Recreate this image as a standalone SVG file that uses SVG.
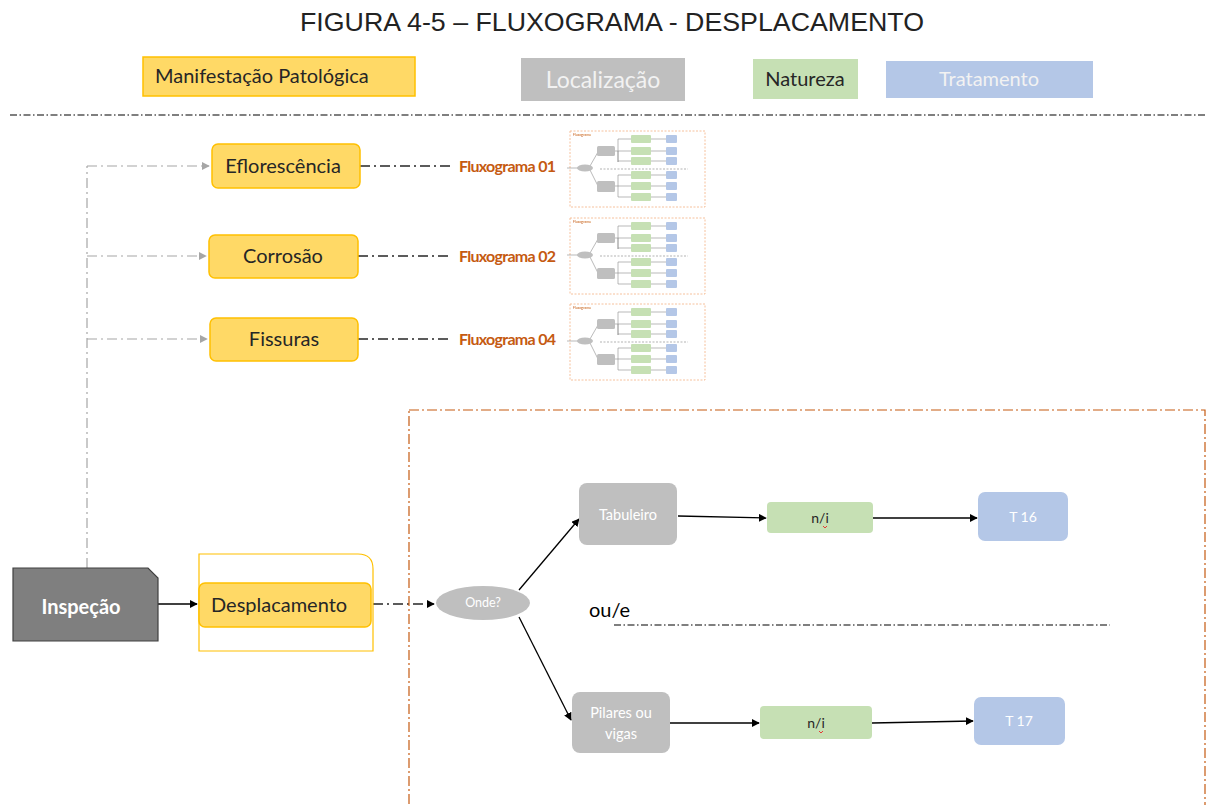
<svg xmlns="http://www.w3.org/2000/svg" xmlns:xlink="http://www.w3.org/1999/xlink" width="1207" height="805" viewBox="0 0 1207 805">
  <style>
    .title { font-family: "Liberation Sans", Arial, sans-serif; font-size: 25px; fill: #222; }
    .lbl { font-family: Lato, "Open Sans", sans-serif; }
    .manif { fill: #ffd966; stroke: #ffc000; stroke-width: 1.5; }
    .loc { fill: #bfbfbf; }
    .nat { fill: #c6e0b4; }
    .trat { fill: #b4c7e7; }
    .dark { fill: #262626; }
    .white { fill: #ffffff; }
    .fx { font-family: Lato, "Open Sans", sans-serif; font-weight: bold; font-size: 16px; fill: #c55a11; letter-spacing: -0.7px; }
    .sep { fill: none; stroke: #000; stroke-width: 1.2; stroke-dasharray: 7 2.5 1.5 2.5; }
    .gray-link { fill: none; stroke: #a6a6a6; stroke-width: 1.2; stroke-dasharray: 10 4 2 4; }
    .dd-link { fill: none; stroke: #262626; stroke-width: 1.3; stroke-dasharray: 10 4 2 4; }
    .solid { fill: none; stroke: #000; stroke-width: 1.3; }
    .frame { fill: none; stroke: #c55a11; stroke-width: 1.2; stroke-dasharray: 10 3 2 3; }
    .t-border { fill: none; stroke: #f4b183; stroke-width: 0.8; stroke-dasharray: 2 1.5; }
    .t-line { fill: none; stroke: #8c8c8c; stroke-width: 0.6; }
  </style>
  <defs>
    <marker id="ah-black" viewBox="0 0 10 10" refX="9" refY="5" markerWidth="8" markerHeight="8" markerUnits="userSpaceOnUse" orient="auto">
      <path d="M0,0 L10,5 L0,10 z" fill="#000"/>
    </marker>
    <marker id="ah-gray" viewBox="0 0 10 10" refX="9" refY="5" markerWidth="8" markerHeight="8" markerUnits="userSpaceOnUse" orient="auto">
      <path d="M0,0 L10,5 L0,10 z" fill="#a6a6a6"/>
    </marker>
    <filter id="soft" x="-5%" y="-5%" width="110%" height="110%">
      <feGaussianBlur stdDeviation="0.55"/>
    </filter>
    <!-- miniature of a sub-flowchart, local size 135 x 76 -->
    <g id="mini">
      <rect class="t-border" x="0" y="0" width="135" height="76"/>
      <text x="3" y="5" font-family="Lato, sans-serif" font-size="3.5" fill="#c55a11">Fluxograma</text>
      <path class="t-line" d="M-3,37 H8 M20,35 L28,21 M20,39 L28,55 M44,20 H48 V31 M48,8 V31 M48,8 H61 M48,20 H61 M48,30 H61 M44,55 H48 M48,44 V66 M48,44 H61 M48,55 H61 M48,66 H61 M80,8 H96 M80,20 H96 M80,30 H96 M80,44 H96 M80,55 H96 M80,66 H96"/>
      <path d="M30,38 H118" fill="none" stroke="#7f7f7f" stroke-width="0.6" stroke-dasharray="2 1.5"/>
      <ellipse cx="15" cy="37" rx="8" ry="3.5" fill="#bfbfbf"/>
      <rect x="27" y="15" width="18" height="10" rx="1.5" fill="#bfbfbf"/>
      <rect x="27" y="50" width="18" height="11" rx="1.5" fill="#bfbfbf"/>
      <g fill="#c6e0b4">
        <rect x="61" y="4" width="20" height="8" rx="1"/>
        <rect x="61" y="16" width="20" height="8" rx="1"/>
        <rect x="61" y="26" width="20" height="8" rx="1"/>
        <rect x="61" y="40" width="20" height="8" rx="1"/>
        <rect x="61" y="51" width="20" height="8" rx="1"/>
        <rect x="61" y="62" width="20" height="8" rx="1"/>
      </g>
      <g fill="#b4c7e7">
        <rect x="96" y="4" width="11" height="8" rx="1"/>
        <rect x="96" y="16" width="11" height="8" rx="1"/>
        <rect x="96" y="26" width="11" height="8" rx="1"/>
        <rect x="96" y="40" width="11" height="8" rx="1"/>
        <rect x="96" y="51" width="11" height="8" rx="1"/>
        <rect x="96" y="62" width="11" height="8" rx="1"/>
      </g>
    </g>
  </defs>

  <rect x="0" y="0" width="1207" height="805" fill="#ffffff"/>

  <!-- title -->
  <text class="title" x="612" y="31" text-anchor="middle" textLength="624" lengthAdjust="spacingAndGlyphs">FIGURA 4-5 – FLUXOGRAMA - DESPLACAMENTO</text>

  <!-- legend -->
  <g id="legend">
    <rect class="manif" x="143" y="57" width="272" height="39"/>
    <text class="lbl dark" x="155" y="83" font-size="20">Manifestação Patológica</text>
    <rect class="loc" x="521" y="58" width="164" height="43"/>
    <text class="lbl" x="603" y="88" font-size="23" fill="#f2f2f2" text-anchor="middle">Localização</text>
    <rect class="nat" x="753" y="59" width="105" height="40"/>
    <text class="lbl dark" x="805" y="86" font-size="20" text-anchor="middle">Natureza</text>
    <rect class="trat" x="886" y="61" width="207" height="37"/>
    <text class="lbl" x="989" y="86" font-size="20" fill="#f2f2f2" text-anchor="middle">Tratamento</text>
  </g>
  <line class="sep" x1="10" y1="115" x2="1207" y2="115"/>

  <!-- connectors -->
  <g id="connectors">
    <path class="gray-link" d="M87,568 V166"/>
    <path class="gray-link" d="M87,166 H209" marker-end="url(#ah-gray)"/>
    <path class="gray-link" d="M87,256 H206" marker-end="url(#ah-gray)"/>
    <path class="gray-link" d="M87,339 H207" marker-end="url(#ah-gray)"/>
    <path class="dd-link" d="M360,166 H450"/>
    <path class="dd-link" d="M358,256 H450"/>
    <path class="dd-link" d="M358,339 H450"/>
    <path class="solid" d="M158,604 H197" marker-end="url(#ah-black)"/>
    <path class="dd-link" d="M373,604 H434" marker-end="url(#ah-black)"/>
    <path class="solid" d="M519,590 L579,519" marker-end="url(#ah-black)"/>
    <path class="solid" d="M678,516 L766,518" marker-end="url(#ah-black)"/>
    <path class="solid" d="M873,518 H977" marker-end="url(#ah-black)"/>
    <path class="solid" d="M519,617 L571,720" marker-end="url(#ah-black)"/>
    <path class="solid" d="M670,723 H759" marker-end="url(#ah-black)"/>
    <path class="solid" d="M872,723 L973,721" marker-end="url(#ah-black)"/>
    <path class="sep" d="M614,625 H1110" stroke="#333"/>
  </g>

  <!-- pathology nodes -->
  <g id="eflorescencia">
    <rect class="manif" x="212" y="144" width="148" height="44" rx="6"/>
    <text class="lbl dark" x="283" y="173" font-size="20" text-anchor="middle">Eflorescência</text>
  </g>
  <g id="corrosao">
    <rect class="manif" x="209" y="235" width="149" height="43" rx="6"/>
    <text class="lbl dark" x="283" y="263" font-size="20" text-anchor="middle">Corrosão</text>
  </g>
  <g id="fissuras">
    <rect class="manif" x="210" y="318" width="148" height="43" rx="6"/>
    <text class="lbl dark" x="284" y="346" font-size="20" text-anchor="middle">Fissuras</text>
  </g>

  <!-- references to other flowcharts -->
  <g id="ref-fluxograma-01">
    <text class="fx" x="459" y="172">Fluxograma 01</text>
    <use xlink:href="#mini" transform="translate(570,131)" filter="url(#soft)"/>
  </g>
  <g id="ref-fluxograma-02">
    <text class="fx" x="459" y="262">Fluxograma 02</text>
    <use xlink:href="#mini" transform="translate(570,218)" filter="url(#soft)"/>
  </g>
  <g id="ref-fluxograma-04">
    <text class="fx" x="459" y="345">Fluxograma 04</text>
    <use xlink:href="#mini" transform="translate(570,304)" filter="url(#soft)"/>
  </g>

  <!-- main branch -->
  <g id="inspecao">
    <path d="M13,568 H148 L158,578 V641 H13 Z" fill="#7f7f7f" stroke="#404040" stroke-width="1.2"/>
    <text class="lbl white" x="81" y="614" font-size="20" font-weight="bold" text-anchor="middle">Inspeção</text>
  </g>
  <g id="desplacamento">
    <path d="M199,554 H358 Q373,554 373,569 V651 H199 Z" fill="none" stroke="#ffc000" stroke-width="1.2"/>
    <rect class="manif" x="199" y="583" width="172" height="44" rx="6"/>
    <text class="lbl dark" x="211" y="612" font-size="20">Desplacamento</text>
  </g>

  <rect id="localizacao-frame" class="frame" x="409" y="410" width="796" height="400"/>

  <g id="onde">
    <ellipse cx="483" cy="603" rx="47" ry="17" fill="#bfbfbf"/>
    <text class="lbl white" x="483" y="607" font-size="12.5" text-anchor="middle">Onde?</text>
  </g>
  <g id="tabuleiro">
    <rect class="loc" x="579" y="483" width="98" height="62" rx="8"/>
    <text class="lbl white" x="628" y="520" font-size="14.5" text-anchor="middle">Tabuleiro</text>
  </g>
  <g id="natureza-1">
    <rect class="nat" x="767" y="502" width="106" height="31" rx="4"/>
    <text class="lbl dark" x="820" y="523" font-size="14" text-anchor="middle">n/i</text>
    <path d="M823,526 l2,2 l2,-2" fill="none" stroke="#e53935" stroke-width="1"/>
  </g>
  <g id="t16">
    <rect class="trat" x="978" y="492" width="90" height="49" rx="7"/>
    <text class="lbl white" x="1023" y="522" font-size="14" text-anchor="middle">T 16</text>
  </g>

  <text class="lbl" x="589" y="617" font-size="20" fill="#000">ou/e</text>

  <g id="pilares">
    <rect class="loc" x="572" y="692" width="98" height="61" rx="8"/>
    <text class="lbl white" x="621" y="718" font-size="14.5" text-anchor="middle">Pilares ou</text>
    <text class="lbl white" x="621" y="739" font-size="14.5" text-anchor="middle">vigas</text>
  </g>
  <g id="natureza-2">
    <rect class="nat" x="760" y="706" width="112" height="33" rx="4"/>
    <text class="lbl dark" x="816" y="728" font-size="14" text-anchor="middle">n/i</text>
    <path d="M819,731 l2,2 l2,-2" fill="none" stroke="#e53935" stroke-width="1"/>
  </g>
  <g id="t17">
    <rect class="trat" x="974" y="697" width="91" height="48" rx="7"/>
    <text class="lbl white" x="1019" y="726" font-size="14" text-anchor="middle">T 17</text>
  </g>
</svg>
